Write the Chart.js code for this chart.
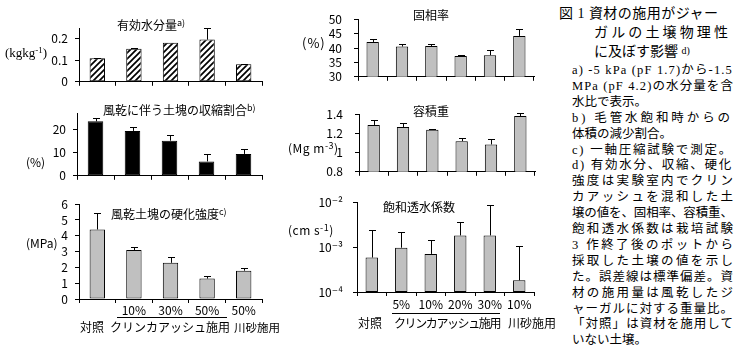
<!DOCTYPE html>
<html lang="ja"><head><meta charset="utf-8">
<script src="https://cdn.jsdelivr.net/npm/chart.js@4"></script>
<style>
html,body{margin:0;padding:0;background:#fff}
body{width:734px;height:356px;overflow:hidden;position:relative;font-family:'Noto Sans CJK JP',sans-serif;color:#000}
canvas{position:absolute}
.t{position:absolute;white-space:nowrap;font-size:12px;line-height:14px}
.t sup{font-size:9px;vertical-align:4px;line-height:0}
.ul{position:absolute;height:1px;background:#000}
.cap{position:absolute;white-space:nowrap;font-family:'Liberation Serif','Noto Sans CJK JP',serif;}
.h{font-size:14px;line-height:18px}
.n{font-size:12.5px;line-height:16px}
</style></head><body>
<canvas id="c1"></canvas><canvas id="c2"></canvas><canvas id="c3"></canvas>
<canvas id="c4"></canvas><canvas id="c5"></canvas><canvas id="c6"></canvas>

<!-- panel titles -->
<div class="t" style="left:117px;top:18px">有効水分量<sup>a)</sup></div>
<div class="t" style="left:103px;top:103px">風乾に伴う土塊の収縮割合<sup>b)</sup></div>
<div class="t" style="left:111px;top:207px">風乾土塊の硬化強度<sup>c)</sup></div>
<div class="t" style="left:413px;top:8px">固相率</div>
<div class="t" style="left:413px;top:104px">容積重</div>
<div class="t" style="left:383px;top:200px">飽和透水係数</div>

<!-- axis unit labels -->
<div class="t" style="left:5px;top:46px;font-family:'Liberation Serif',serif;font-size:13px">(kgkg<sup>-1</sup>)</div>
<div class="t" style="left:26px;top:155px">(%)</div>
<div class="t" style="left:26px;top:236px">(MPa)</div>
<div class="t" style="left:302px;top:36px;font-size:13px;letter-spacing:1px">(%)</div>
<div class="t" style="left:288px;top:141px;letter-spacing:0.5px">(Mg m<sup>-3</sup>)</div>
<div class="t" style="left:288px;top:223px;letter-spacing:0.5px">(cm s<sup>-1</sup>)</div>

<!-- group labels -->
<div class="ul" style="left:117px;top:317px;width:110px"></div>
<div class="t" style="left:80px;top:320px">対照</div>
<div class="t" style="left:110px;top:320px">クリンカアッシュ施用</div>
<div class="t" style="left:234px;top:320px;font-size:11.5px">川砂施用</div>
<div class="ul" style="left:392px;top:313px;width:108px"></div>
<div class="t" style="left:358px;top:316px">対照</div>
<div class="t" style="left:394px;top:316px;letter-spacing:-1.4px">クリンカアッシュ施用</div>
<div class="t" style="left:508px;top:316px">川砂施用</div>

<!-- caption -->
<div class="cap h j" data-w="159" style="left:559px;top:5px">図 1 資材の施用がジャー</div>
<div class="cap h j" data-w="134" style="left:594px;top:24px">ガルの土壌物理性</div>
<div class="cap h" style="left:594px;top:42px">に及ぼす影響 <span style="font-size:10px;vertical-align:2px">d)</span></div>
<div id="notes"></div>

<script>
// ---------------- data ----------------
const leftDoseLabels = ['', '10%', '30%', '50%', '50%'];
const rightDoseLabels = ['', '5%', '10%', '20%', '30%', '10%'];

const waterValues = [0.110, 0.154, 0.181, 0.196, 0.081];
const waterSD     = [0.002, 0.002, 0.0, 0.055, 0.001];
const waterTicks  = [0, 0.1, 0.2];
const waterTickLabels = ['0', '0.1', '0.2'];

const shrinkValues = [23.4, 19.3, 15.1, 6.2, 9.4];
const shrinkSD     = [1.4, 1.5, 2.5, 3.2, 2.3];
const shrinkTicks  = [0, 10, 20];
const shrinkTickLabels = ['0', '10', '20'];

const hardValues = [4.40, 3.10, 2.29, 1.29, 1.79];
const hardSD     = [1.06, 0.18, 0.37, 0.16, 0.18];
const hardTicks  = [0, 1, 2, 3, 4, 5, 6];
const hardTickLabels = ['0', '1', '2', '3', '4', '5', '6'];

const solidValues = [42.1, 40.5, 40.7, 37.2, 37.5, 44.2];
const solidSD     = [1.1, 1.0, 0.6, 0.3, 1.9, 2.5];
const solidTicks  = [30, 35, 40, 45, 50];
const solidTickLabels = ['30', '35', '40', '45', '50'];

const bulkValues = [1.288, 1.267, 1.237, 1.119, 1.085, 1.380];
const bulkSD     = [0.047, 0.046, 0.005, 0.033, 0.053, 0.030];
const bulkTicks  = [0.8, 1.0, 1.2, 1.4];
const bulkTickLabels = ['0.8', '1', '1.2', '1.4'];

const ksatValues = [5.85e-4, 9.7e-4, 7.05e-4, 1.82e-3, 1.82e-3, 1.82e-4];
const ksatSD     = [1.83e-3, 1.15e-3, 7.2e-4, 1.85e-3, 6.8e-3, 9.0e-4];
const ksatTicks  = [1e-4, 1e-3, 1e-2];
const ksatTickLabels = ['10⁻⁴', '10⁻³', '10⁻²'];

const noteLines = [
  ['a)  -5 kPa (pF 1.7)から-1.5', true],
  ['MPa (pF 4.2)の水分量を含', true],
  ['水比で表示。', false],
  ['b)  毛管水飽和時からの', true],
  ['体積の減少割合。', false],
  ['c)  一軸圧縮試験で測定。', true],
  ['d)  有効水分、収縮、硬化', true],
  ['強度は実験室内でクリン', true],
  ['カアッシュを混和した土', true],
  ['壌の値を、固相率、容積重、', true],
  ['飽和透水係数は栽培試験', true],
  ['3 作終了後のポットから', true],
  ['採取した土壌の値を示し', true],
  ['た。誤差線は標準偏差。資', true],
  ['材の施用量は風乾したジ', true],
  ['ャーガルに対する重量比。', true],
  ['「対照」は資材を施用して', true],
  ['いない土壌。', false]
];

// ---------------- drawing ----------------
Chart.defaults.font.family = "'Noto Sans CJK JP','DejaVu Sans',sans-serif";
Chart.defaults.font.size = 12;
Chart.defaults.color = '#000';

const errPlugin = {
  id: 'errbars',
  afterDatasetsDraw(chart) {
    const ds = chart.data.datasets[0];
    const meta = chart.getDatasetMeta(0);
    const ys = chart.scales.y;
    const ctx = chart.ctx;
    ctx.save();
    ctx.strokeStyle = '#000';
    ctx.lineWidth = 1;
    meta.data.forEach((bar, i) => {
      const e = ds.errors[i];
      if (!e) return;
      const x = Math.round(bar.x) + 0.5;
      const y1 = Math.round(ys.getPixelForValue(ds.data[i] + e)) + 0.5;
      ctx.beginPath();
      ctx.moveTo(x, bar.y);
      ctx.lineTo(x, y1);
      ctx.moveTo(x - 3.5, y1);
      ctx.lineTo(x + 3.5, y1);
      ctx.stroke();
    });
    ctx.restore();
  }
};

function hatch() {
  const c = document.createElement('canvas');
  c.width = 6; c.height = 6;
  const g = c.getContext('2d');
  g.fillStyle = '#fff'; g.fillRect(0, 0, 6, 6);
  g.strokeStyle = '#000'; g.lineWidth = 1.7;
  g.beginPath();
  g.moveTo(0, 6); g.lineTo(6, 0);
  g.moveTo(-3, 3); g.lineTo(3, -3);
  g.moveTo(3, 9); g.lineTo(9, 3);
  g.stroke();
  return g.createPattern(c, 'repeat');
}

function panel(id, box, area, cfg) {
  const cv = document.getElementById(id);
  cv.style.left = box[0] + 'px';
  cv.style.top = box[1] + 'px';
  cv.width = box[2];
  cv.height = box[3];
  const [l, t, r, b] = area;
  const axisGrid = { display: true, drawOnChartArea: false, drawTicks: true, tickLength: 4, color: '#000', lineWidth: 1 };
  return new Chart(cv, {
    type: 'bar',
    data: {
      labels: cfg.labels,
      datasets: [{
        data: cfg.values, errors: cfg.errors,
        backgroundColor: cfg.fill, borderColor: '#000', borderWidth: 1, borderSkipped: false,
        barPercentage: 0.42, categoryPercentage: 1
      }]
    },
    options: {
      responsive: false, animation: false, events: [],
      layout: { padding: { left: 0, top: t, right: box[2] - r, bottom: 0 } },
      plugins: { legend: { display: false }, tooltip: { enabled: false }, title: { display: false } },
      scales: {
        x: {
          grid: Object.assign({}, axisGrid, { offset: true }),
          border: { display: true, color: '#000', width: 1 },
          ticks: { display: cfg.showX, padding: cfg.xPad || 0, maxRotation: 0, minRotation: 0, autoSkip: false, color: '#000' },
          afterFit(s) { s.height = box[3] - b; }
        },
        y: {
          type: cfg.log ? 'logarithmic' : 'linear',
          min: cfg.min, max: cfg.max,
          grid: axisGrid,
          border: { display: true, color: '#000', width: 1 },
          ticks: {
            padding: cfg.yPad, color: '#000', autoSkip: false,
            callback: (v, i) => cfg.tickLabels[i]
          },
          afterBuildTicks(s) { s.ticks = cfg.ticks.map(v => ({ value: v })); },
          afterFit(s) { s.width = l; }
        }
      }
    },
    plugins: [errPlugin]
  });
}

panel('c1', [0, 0, 280, 96], [79, 28, 262, 86], {
  labels: leftDoseLabels, values: waterValues, errors: waterSD, fill: hatch(),
  min: 0, max: 0.25, ticks: waterTicks, tickLabels: waterTickLabels, yPad: 7, showX: false
});
panel('c2', [0, 90, 280, 100], [77, 23, 262, 91], {
  labels: leftDoseLabels, values: shrinkValues, errors: shrinkSD, fill: '#000',
  min: 0, max: 27, ticks: shrinkTicks, tickLabels: shrinkTickLabels, yPad: 7, showX: false
});
panel('c3', [0, 190, 280, 130], [79, 13, 262, 109], {
  labels: leftDoseLabels, values: hardValues, errors: hardSD, fill: '#c0c0c0',
  min: 0, max: 6, ticks: hardTicks, tickLabels: hardTickLabels, yPad: 7, showX: true, xPad: 0
});
panel('c4', [280, 0, 270, 96], [78, 12, 254, 86], {
  labels: rightDoseLabels, values: solidValues, errors: solidSD, fill: '#c0c0c0',
  min: 30, max: 50, ticks: solidTicks, tickLabels: solidTickLabels, yPad: 12, showX: false
});
panel('c5', [280, 95, 270, 96], [79, 13, 255, 84], {
  labels: rightDoseLabels, values: bulkValues, errors: bulkSD, fill: '#c0c0c0',
  min: 0.8, max: 1.4, ticks: bulkTicks, tickLabels: bulkTickLabels, yPad: 12, showX: false
});
panel('c6', [280, 185, 270, 130], [77, 15, 254, 107], {
  labels: rightDoseLabels, values: ksatValues, errors: ksatSD, fill: '#c0c0c0', log: true,
  min: 1e-4, max: 1e-2, ticks: ksatTicks, tickLabels: ksatTickLabels, yPad: 10, showX: true, xPad: 1
});

// caption notes
const notes = document.getElementById('notes');
noteLines.forEach(([txt, just], i) => {
  const d = document.createElement('div');
  d.className = 'cap n' + (just ? ' j' : '');
  d.dataset.w = 161;
  d.style.left = '572px';
  d.style.top = (62 + i * 15.9) + 'px';
  d.textContent = txt;
  notes.appendChild(d);
});

function fit() {
  document.querySelectorAll('.j').forEach(el => {
    el.style.letterSpacing = '0px';
    const w = el.getBoundingClientRect().width;
    const n = [...el.textContent].length;
    if (n > 1) el.style.letterSpacing = ((+el.dataset.w - w) / (n - 1)) + 'px';
  });
}
fit();
if (document.fonts && document.fonts.ready) document.fonts.ready.then(fit);
</script>
</body></html>
